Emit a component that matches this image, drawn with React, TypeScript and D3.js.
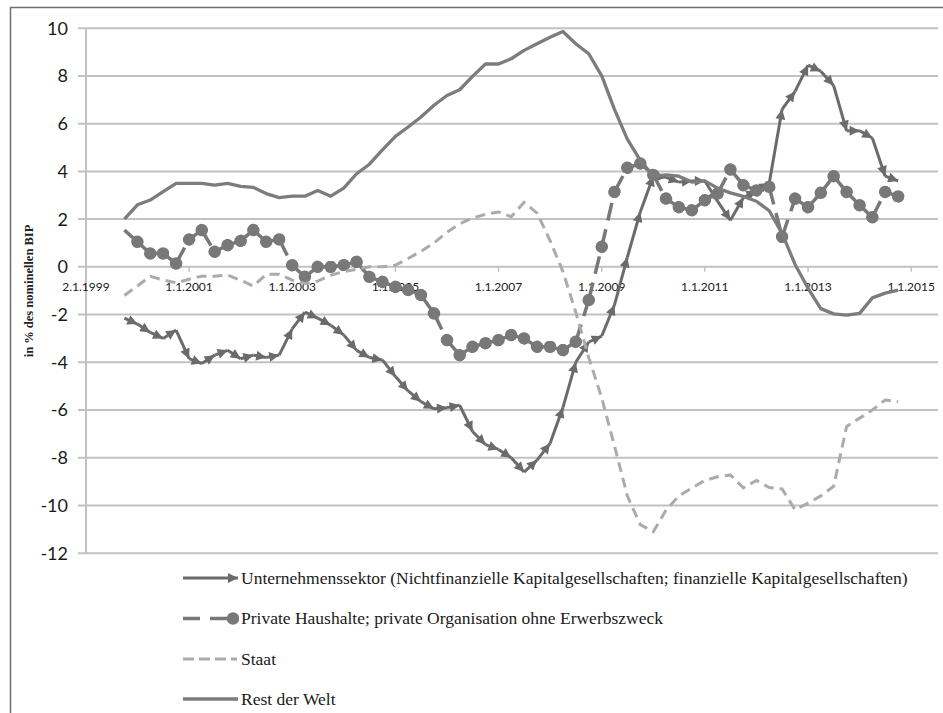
import React from 'react';
import * as d3 from 'd3';

// quarterly observations, 1.10.1999 .. 1.10.2014
const firstQuarter = new Date(1999, 9, 1);
const quarterCount = 61;

// in % des nominellen BIP
const unternehmen = [
  -2.15, -2.4, -2.75, -3.0, -2.65, -3.85, -4.05, -3.7, -3.5, -3.85,
  -3.7, -3.8, -3.7, -2.6, -1.9, -2.15, -2.45, -2.85, -3.5, -3.8,
  -3.9, -4.6, -5.2, -5.65, -5.95, -5.9, -5.8, -6.9, -7.45, -7.65,
  -8.0, -8.6, -8.1, -7.4, -5.9, -4.0, -3.15, -2.9, -1.6, 0.4,
  2.3, 3.8, 3.75, 3.55, 3.6, 3.6, 2.75, 1.95, 2.9, 3.2,
  3.5, 6.6, 7.35, 8.45, 8.2, 7.6, 5.7, 5.7, 5.4, 3.8,
  3.6
];

const haushalte = [
  1.54, 1.05, 0.56, 0.56, 0.14, 1.15, 1.54, 0.63, 0.91, 1.09,
  1.54, 1.05, 1.15, 0.07, -0.42, 0.0, 0.0, 0.07, 0.21, -0.42,
  -0.63, -0.84, -0.97, -1.18, -1.95, -3.07, -3.7, -3.35, -3.2, -3.07,
  -2.86, -3.0, -3.35, -3.35, -3.49, -3.14, -1.39, 0.84, 3.14, 4.15,
  4.33, 3.85, 2.86, 2.5, 2.37, 2.79, 3.07, 4.08, 3.42, 3.2,
  3.35, 1.26, 2.86, 2.5, 3.1, 3.8, 3.14, 2.58, 2.08, 3.14,
  2.95
];

const staat = [
  -1.2, -0.8, -0.4, -0.55, -0.67, -0.52, -0.39, -0.39, -0.35, -0.56,
  -0.81, -0.31, -0.31, -0.56, -0.7, -0.6, -0.35, -0.2, -0.1, 0.0,
  0.0, 0.07, 0.35, 0.65, 1.0, 1.45, 1.8, 2.05, 2.2, 2.3,
  2.1, 2.7, 2.25, 1.1, -0.2, -1.9, -3.8, -5.5, -7.5, -9.6,
  -10.8, -11.1, -10.2, -9.6, -9.27, -8.95, -8.8, -8.72, -9.26, -8.95,
  -9.25, -9.31, -10.18, -9.9, -9.6, -9.2, -6.69, -6.34, -6.0, -5.58,
  -5.65
];

const restDerWelt = [
  2.0, 2.6, 2.8, 3.15, 3.5, 3.5, 3.5, 3.42, 3.5, 3.37,
  3.33, 3.07, 2.9, 2.96, 2.96, 3.2, 2.96, 3.3, 3.9, 4.3,
  4.9, 5.47, 5.86, 6.28, 6.77, 7.18, 7.42, 7.98, 8.5, 8.5,
  8.72, 9.07, 9.35, 9.62, 9.86, 9.35, 8.93, 8.0, 6.6, 5.35,
  4.46, 3.8, 3.85, 3.8, 3.55, 3.6, 3.3, 3.1, 2.95, 2.75,
  2.35, 1.4, 0.1, -0.9, -1.75, -1.97, -2.02, -1.95, -1.3, -1.1,
  -0.98
];

const xTickLabels = ['2.1.1999', '1.1.2001', '1.1.2003', '1.1.2005', '1.1.2007', '1.1.2009', '1.1.2011', '1.1.2013', '1.1.2015'];
const yTicks = [-12, -10, -8, -6, -4, -2, 0, 2, 4, 6, 8, 10];

const legendLabels = [
  'Unternehmenssektor (Nichtfinanzielle Kapitalgesellschaften; finanzielle Kapitalgesellschaften)',
  'Private Haushalte; private Organisation ohne Erwerbszweck',
  'Staat',
  'Rest der Welt'
];

const yTitle = 'in % des nominellen BIP';

const colUnt = '#6b6b6b';
const colHh = '#787878';
const colStaat = '#ababab';
const colRest = '#7c7c7c';
const gridCol = '#c2c2c2';

const parseTick = d3.timeParse('%d.%m.%Y');

const App = () => {
  const width = 943;
  const height = 713;

  const quarters = d3.range(quarterCount).map(i => d3.timeMonth.offset(firstQuarter, 3 * i));

  const x = d3.scaleTime()
    .domain([new Date(1999, 0, 2), new Date(2015, 6, 10)])
    .range([86, 938]);

  const y = d3.scaleLinear()
    .domain([-12, 10])
    .range([553.2, 28.2]);

  const line = d3.line<number>()
    .x((d, i) => x(quarters[i]))
    .y(d => y(d));

  // each segment drawn on its own so the arrow / oval ends repeat like Excel does
  const segments = (vals: number[]) => vals.slice(1).map((v, i) => ({
    x1: x(quarters[i]), y1: y(vals[i]), x2: x(quarters[i + 1]), y2: y(v)
  }));

  const legendY = [578, 618.5, 659, 699];
  const sampleX0 = 183;
  const textX = 241;

  return (
    <svg width={width} height={height} style={{ position: 'absolute', left: 0, top: 0, background: '#fff' }}>
      <defs>
        <marker id="arrowHead" viewBox="0 0 10 10" refX="10" refY="5" markerWidth="11" markerHeight="10"
          markerUnits="userSpaceOnUse" orient="auto">
          <path d="M0,0 L10,5 L0,10 Z" fill={colUnt} />
        </marker>
        <marker id="ovalEnd" viewBox="0 0 12 12" refX="6" refY="6" markerWidth="12.5" markerHeight="12.5"
          markerUnits="userSpaceOnUse" orient="auto">
          <circle cx="6" cy="6" r="6" fill={colHh} />
        </marker>
      </defs>

      {/* outer frame */}
      <line x1={10} x2={943} y1={7.5} y2={7.5} stroke="#6f6f6f" strokeWidth={1.5} />
      <line x1={10.5} x2={10.5} y1={7} y2={713} stroke="#6f6f6f" strokeWidth={1.5} />

      {/* grid + y ticks */}
      {yTicks.map(t => (
        <g key={t}>
          <line x1={78} x2={938} y1={y(t)} y2={y(t)} stroke={gridCol} strokeWidth={2} />
          <text x={68} y={y(t)} dy="0.36em" textAnchor="end" fontFamily="Lato, 'Open Sans', sans-serif"
            fontSize={18} fill="#1a1a1a">{t}</text>
        </g>
      ))}
      <line x1={86} x2={86} y1={y(10)} y2={y(-12)} stroke={gridCol} strokeWidth={2} />

      {/* x axis ticks on the zero line */}
      {xTickLabels.map(lbl => {
        const xx = x(parseTick(lbl) as Date);
        return (
          <g key={lbl}>
            <line x1={xx} x2={xx} y1={y(0)} y2={y(0) + 5} stroke={gridCol} strokeWidth={1.5} />
            <text x={xx} y={291} textAnchor="middle" fontFamily="Lato, 'Open Sans', sans-serif"
              fontSize={12} fill="#1a1a1a">{lbl}</text>
          </g>
        );
      })}

      {/* y title */}
      <text transform="translate(33,291) rotate(-90)" textAnchor="middle" fontFamily="'Liberation Serif', serif"
        fontWeight="bold" fontSize={12.5} fill="#222">{yTitle}</text>

      {/* Unternehmenssektor */}
      <g>
        {segments(unternehmen).map((s, i) => (
          <line key={i} {...s} stroke={colUnt} strokeWidth={3} markerEnd="url(#arrowHead)" />
        ))}
      </g>

      {/* Private Haushalte */}
      <g>
        {segments(haushalte).map((s, i) => (
          <line key={i} {...s} stroke={colHh} strokeWidth={3.5} strokeDasharray="18,9" markerEnd="url(#ovalEnd)" />
        ))}
      </g>

      {/* Staat */}
      <path d={line(staat) || ''} fill="none" stroke={colStaat} strokeWidth={3} strokeDasharray="10,6" />

      {/* Rest der Welt */}
      <path d={line(restDerWelt) || ''} fill="none" stroke={colRest} strokeWidth={3.3} strokeLinejoin="round" />

      {/* legend */}
      <g>
        <line x1={sampleX0} x2={238} y1={legendY[0]} y2={legendY[0]} stroke={colUnt} strokeWidth={3} markerEnd="url(#arrowHead)" />
        <line x1={sampleX0} x2={233} y1={legendY[1]} y2={legendY[1]} stroke={colHh} strokeWidth={3.5} strokeDasharray="17,10" markerEnd="url(#ovalEnd)" />
        <line x1={sampleX0} x2={237} y1={legendY[2]} y2={legendY[2]} stroke={colStaat} strokeWidth={3} strokeDasharray="11,5" />
        <line x1={sampleX0} x2={238} y1={legendY[3]} y2={legendY[3]} stroke={colRest} strokeWidth={3.3} />
        {legendLabels.map((lbl, i) => (
          <text key={lbl} x={textX} y={legendY[i]} dy="0.33em" fontFamily="'Liberation Serif', serif"
            fontSize={17.5} fill="#1a1a1a">{lbl}</text>
        ))}
      </g>
    </svg>
  );
};

export default App;
